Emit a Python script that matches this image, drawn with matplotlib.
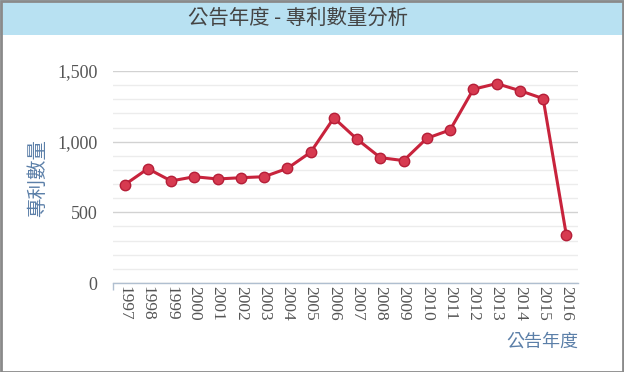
import matplotlib
matplotlib.use("Agg")
import matplotlib.pyplot as plt
from matplotlib.patches import Rectangle
from matplotlib.ticker import MultipleLocator, FuncFormatter

years = ["1997", "1998", "1999", "2000", "2001", "2002", "2003", "2004", "2005", "2006",
         "2007", "2008", "2009", "2010", "2011", "2012", "2013", "2014", "2015", "2016"]
counts = [695, 809, 722, 752, 736, 745, 752, 811, 925, 1168,
          1017, 887, 866, 1024, 1083, 1371, 1411, 1361, 1305, 337]

title = "公告年度 - 專利數量分析"
ylabel = "專利數量"
xlabel = "公告年度"

W, H = 624, 372
fig = plt.figure(figsize=(W / 100, H / 100), dpi=100)
fig.patch.set_facecolor("white")

# title band
fig.patches.append(Rectangle((0, (H - 35) / H), 1, 35 / H, transform=fig.transFigure,
                             facecolor="#b8e1f2", edgecolor="none", zorder=0))
# outer border
fig.patches.append(Rectangle((0.5 / W, 0.5 / H), (W - 1.5) / W, (H - 1.5) / H,
                             transform=fig.transFigure, facecolor="none",
                             edgecolor="#8a8a8a", linewidth=2.0, zorder=5))

cjk = ["Noto Sans CJK TC", "DejaVu Sans"]
fig.text(298 / W, (H - 18.5) / H, title, ha="center", va="center", fontsize=14.7,
         color="#444444", family=cjk, fontweight="light")

left, right, top, bottom = 113, 578, 71, 283
ax = fig.add_axes([left / W, (H - bottom) / H, (right - left) / W, (bottom - top) / H])
x = list(range(len(years)))
ax.plot(x, counts, color="#c8233c", linewidth=2.2, marker="o", markersize=7.5,
        markerfacecolor="#d73a50", markeredgecolor="#b51f38", markeredgewidth=1.0,
        zorder=3, clip_on=False)

ax.set_xlim(-0.5, len(years) - 0.5)
ax.set_ylim(0, 1500)
ax.yaxis.set_major_locator(MultipleLocator(500))
ax.yaxis.set_minor_locator(MultipleLocator(100))
ax.yaxis.set_major_formatter(FuncFormatter(lambda v, p: f"{int(v):,}"))
ax.grid(True, which="major", axis="y", color="#d2d2d2", linewidth=1.0)
ax.grid(True, which="minor", axis="y", color="#ececec", linewidth=1.0)
ax.set_axisbelow(True)

for s in ["left", "right", "top"]:
    ax.spines[s].set_visible(False)
ax.spines["bottom"].set_color("#b0bfd0")
ax.spines["bottom"].set_linewidth(1.0)

ax.set_xticks(x)
ax.set_xticklabels(years, rotation=270, fontsize=12.5, color="#555555",
                   family="Liberation Serif", va="top", ha="center")
ax.set_xticks([-0.5], minor=True)
ax.tick_params(axis="x", which="major", length=0, pad=2)
ax.tick_params(axis="x", which="minor", length=5, width=1.0, color="#b0bfd0")
ax.tick_params(axis="y", which="both", length=0, pad=11, labelsize=13,
               labelcolor="#555555")
for lab in ax.get_yticklabels():
    lab.set_family("Liberation Serif")

fig.text(38 / W, (H - 178) / H, ylabel, rotation=90, ha="center", va="center",
         fontsize=14, color="#5b7fa8", family=cjk, fontweight="light")
fig.text(right / W, (H - 342) / H, xlabel, ha="right", va="center",
         fontsize=13, color="#5b7fa8", family=cjk, fontweight="light")

fig.savefig("out.png", dpi=100)
